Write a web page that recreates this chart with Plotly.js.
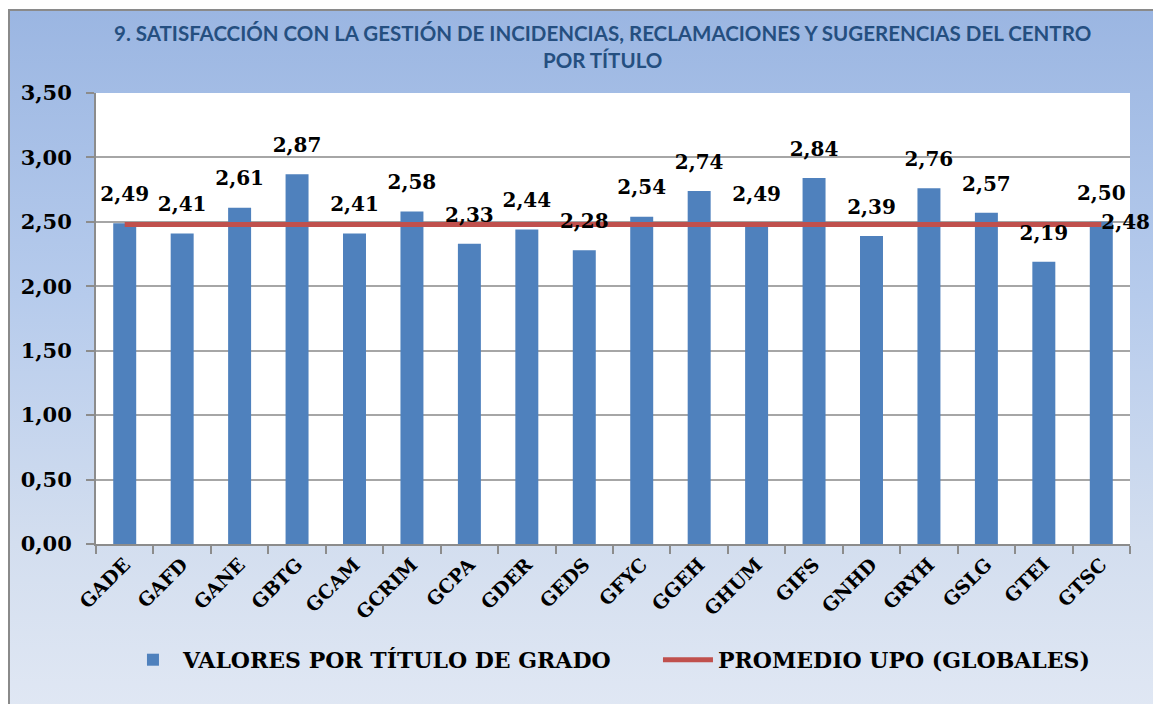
<!DOCTYPE html>
<html>
<head>
<meta charset="utf-8">
<script src="https://cdn.plot.ly/plotly-3.0.1.min.js"></script>
<style>
  html, body { margin: 0; padding: 0; width: 1153px; height: 704px; overflow: hidden; background: #ffffff; }
  #bg { position: absolute; left: 8px; top: 9px; width: 1160px; height: 710px;
        border-left: 2px solid #8a8a8a; border-top: 2px solid #8a8a8a;
        background: linear-gradient(to bottom, #9bb6e2 0%, #b6cbec 40%, #d3deef 75%, #e1e8f4 100%); }
  #chart { position: absolute; left: 0; top: 0; width: 1153px; height: 704px; }
</style>
</head>
<body>
<div id="bg"></div>
<div id="chart"></div>
<script>
const categories = ["GADE","GAFD","GANE","GBTG","GCAM","GCRIM","GCPA","GDER","GEDS","GFYC","GGEH","GHUM","GIFS","GNHD","GRYH","GSLG","GTEI","GTSC"];
const valores = [2.49, 2.41, 2.61, 2.87, 2.41, 2.58, 2.33, 2.44, 2.28, 2.54, 2.74, 2.49, 2.84, 2.39, 2.76, 2.57, 2.19, 2.50];
const promedioUPO = 2.48;
const seriesNames = ["VALORES POR TÍTULO DE GRADO", "PROMEDIO UPO (GLOBALES)"];
const titleText = "9. SATISFACCIÓN CON LA GESTIÓN DE INCIDENCIAS, RECLAMACIONES Y SUGERENCIAS DEL CENTRO<br>POR TÍTULO";
const yTicks = [0, 0.5, 1, 1.5, 2, 2.5, 3, 3.5];

const fmt = v => v.toFixed(2).replace(".", ",");
const serif = "DejaVu Serif, Liberation Serif, serif";
const n = categories.length;

const promedioLine = categories.map(() => promedioUPO);
const promedioText = categories.map((c, i) => i === n - 1 ? fmt(promedioUPO) : "");

const traces = [
  {
    type: "bar",
    x: categories,
    y: valores,
    name: seriesNames[0],
    marker: { color: "#4f81bd" },
    width: 0.4,
    hoverinfo: "x+y"
  },
  {
    type: "scatter",
    mode: "lines+text",
    x: categories,
    y: promedioLine,
    name: seriesNames[1],
    line: { color: "#c0504d", width: 5 },
    text: promedioText,
    textposition: "middle right",
    textfont: { family: serif, size: 20, color: "#000000", weight: "bold" },
    cliponaxis: false
  },
  {
    type: "scatter",
    mode: "markers+text",
    x: categories,
    y: valores,
    showlegend: false,
    marker: { size: 26, color: "rgba(0,0,0,0)" },
    text: valores.map(fmt),
    textposition: "top center",
    textfont: { family: serif, size: 20, color: "#000000", weight: "bold" },
    cliponaxis: false,
    hoverinfo: "skip"
  }
];

const layout = {
  width: 1153,
  height: 704,
  paper_bgcolor: "rgba(0,0,0,0)",
  plot_bgcolor: "#ffffff",
  separators: ",.",
  margin: { l: 96, r: 23, t: 93, b: 160, autoexpand: false },
  title: {
    text: titleText,
    font: { family: "Lato, Open Sans, sans-serif", size: 20.5, color: "#254f80", weight: "bold" },
    x: 0.49, xref: "paper", xanchor: "center",
    y: 0.9417, yref: "container", yanchor: "middle"
  },
  showlegend: true,
  legend: {
    orientation: "h",
    x: -0.001, xanchor: "left", xref: "paper",
    y: -0.257, yanchor: "middle", yref: "paper",
    font: { family: serif, size: 22, color: "#000000", weight: "bold" },
    bgcolor: "rgba(0,0,0,0)",
    itemwidth: 50,
    indentation: 28,
    entrywidth: 442, entrywidthmode: "pixels",
    tracegroupgap: 0
  },
  xaxis: {
    type: "category",
    range: [-0.5, n - 0.5],
    autorange: false,
    tickangle: -45,
    tickfont: { family: serif, size: 19, color: "#000000", weight: "bold" },
    showline: true, linecolor: "#8c8c8c", linewidth: 2,
    ticks: "outside", tickson: "boundaries", ticklen: 8, tickcolor: "#8c8c8c", tickwidth: 2,
    showgrid: false,
    fixedrange: true
  },
  yaxis: {
    range: [0, 3.5],
    autorange: false,
    tickvals: yTicks,
    ticktext: yTicks.map(fmt),
    tickfont: { family: serif, size: 21, color: "#000000", weight: "bold" },
    ticklabelstandoff: 10,
    showline: true, linecolor: "#8c8c8c", linewidth: 2,
    ticks: "outside", ticklen: 8, tickcolor: "#8c8c8c", tickwidth: 2,
    showgrid: true, gridcolor: "#a6a6a6", gridwidth: 2,
    zeroline: false,
    fixedrange: true
  }
};

Plotly.newPlot("chart", traces, layout, { displayModeBar: false, staticPlot: true });
</script>
</body>
</html>
